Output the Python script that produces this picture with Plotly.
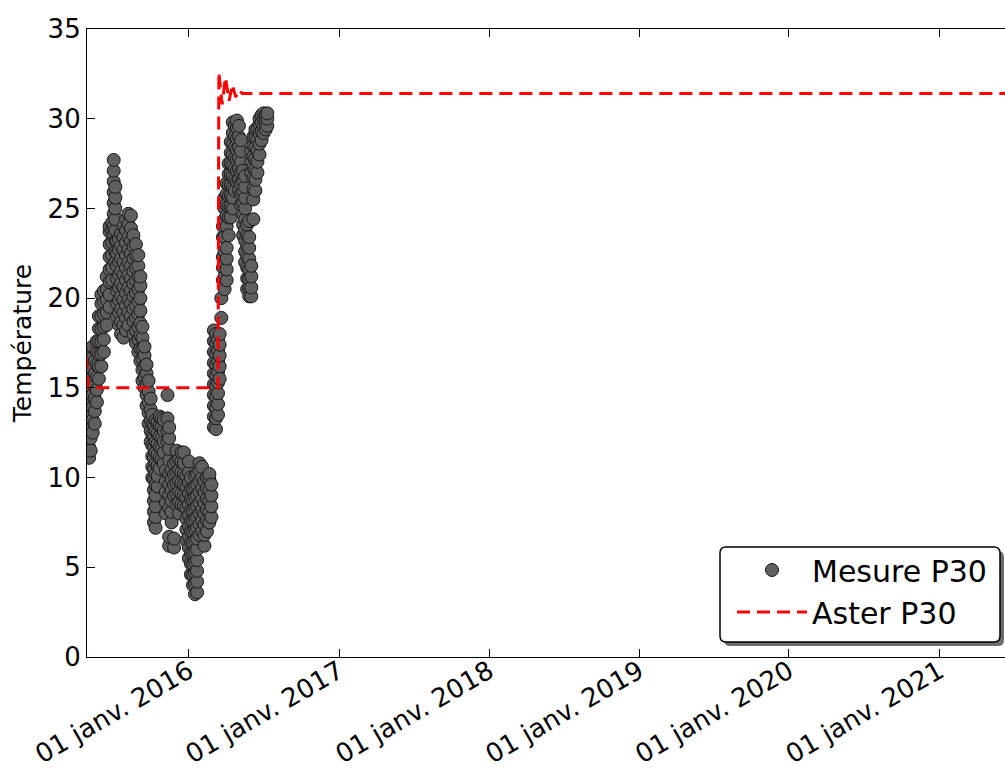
import plotly.graph_objects as go

# ---- data ----
# Measured temperature (Mesure P30): each date has several readings
mesure_groups_dates = [
    "2015-05-03", "2015-05-07", "2015-05-12", "2015-05-17", "2015-05-22", "2015-05-27",
    "2015-06-02", "2015-06-08", "2015-06-15", "2015-06-22", "2015-06-28", "2015-07-02",
    "2015-07-06", "2015-07-10", "2015-07-15", "2015-07-20", "2015-07-26", "2015-08-01",
    "2015-08-07", "2015-08-13", "2015-08-19", "2015-08-25", "2015-08-31", "2015-09-05",
    "2015-09-10", "2015-09-15", "2015-09-20", "2015-09-25", "2015-09-30", "2015-10-04",
    "2015-10-08", "2015-10-12", "2015-10-17", "2015-10-22", "2015-10-27", "2015-11-01",
    "2015-11-06", "2015-11-10", "2015-11-14", "2015-11-20", "2015-11-26", "2015-12-02",
    "2015-12-08", "2015-12-14", "2015-12-20", "2015-12-26", "2016-01-01", "2016-01-06",
    "2016-01-11", "2016-01-16", "2016-01-21", "2016-01-27", "2016-02-02", "2016-02-08",
    "2016-02-14", "2016-02-20", "2016-02-25",
    "2016-03-02", "2016-03-07", "2016-03-12", "2016-03-16", "2016-03-20", "2016-03-24",
    "2016-03-28", "2016-04-02", "2016-04-07", "2016-04-12", "2016-04-17", "2016-04-22",
    "2016-04-27", "2016-05-02", "2016-05-07", "2016-05-12", "2016-05-17", "2016-05-22",
    "2016-05-27", "2016-06-01", "2016-06-06", "2016-06-11", "2016-06-16", "2016-06-21",
    "2016-06-26", "2016-07-01", "2016-07-06", "2016-07-10",
]
mesure_groups_values = [
    [11.1, 11.7, 12.3, 12.9, 13.5, 14.1, 14.7, 15.3],
    [11.5, 12.2, 12.9, 13.6, 14.3, 15.0, 15.7, 16.4, 17.1],
    [12.5, 13.2, 13.9, 14.6, 15.3, 16.0, 16.7, 17.3],
    [13.0, 13.7, 14.4, 15.1, 15.8, 16.5],
    [14.2, 14.9, 15.6, 16.3, 17.0, 17.6],
    [15.5, 16.2, 16.9, 17.6, 18.3, 19.0],
    [16.2, 16.9, 17.6, 18.3, 19.0, 19.7, 20.2],
    [17.0, 17.7, 18.4, 19.1, 19.8, 20.4],
    [18.5, 19.2, 19.9, 20.5, 21.2],
    [19.5, 20.2, 20.9, 21.6, 22.3, 23.0, 23.7, 24.0],
    [21.0, 21.7, 22.4, 23.1, 23.8, 24.2],
    [23.5, 24.0, 24.7, 25.3, 25.9, 26.5, 27.1, 27.7],
    [22.0, 22.6, 23.2, 23.8, 24.4, 25.0, 25.6, 26.2],
    [19.0, 19.7, 20.4, 21.1, 21.8, 22.5, 23.2],
    [18.5, 19.2, 19.9, 20.6, 21.3, 22.0, 22.7, 23.3],
    [18.0, 18.7, 19.4, 20.1, 20.8, 21.5, 22.2, 22.9, 23.6],
    [17.8, 18.5, 19.2, 19.9, 20.6, 21.3, 22.0, 22.7, 23.4, 24.0],
    [18.2, 18.9, 19.6, 20.3, 21.0, 21.7, 22.4, 23.1, 23.8, 24.4],
    [18.5, 19.2, 19.9, 20.6, 21.3, 22.0, 22.7, 23.4, 24.1, 24.7],
    [19.0, 19.7, 20.4, 21.1, 21.8, 22.5, 23.2, 23.9, 24.6],
    [18.0, 18.7, 19.4, 20.1, 20.8, 21.5, 22.2, 22.9, 23.5],
    [17.5, 18.2, 18.9, 19.6, 20.3, 21.0, 21.7, 22.4, 23.0],
    [17.0, 17.7, 18.4, 19.1, 19.8, 20.5, 21.2, 21.8, 22.4],
    [16.5, 17.2, 17.9, 18.6, 19.3, 20.0, 20.7, 21.2],
    [15.4, 16.0, 16.6, 17.2, 17.8, 18.4],
    [15.0, 15.6, 16.2, 16.8, 17.3],
    [14.0, 14.6, 15.2, 15.8, 16.3],
    [13.0, 13.6, 14.2, 14.8, 15.4],
    [12.0, 12.6, 13.2, 13.8, 14.4],
    [10.0, 10.6, 11.2, 11.8, 12.4, 13.0, 13.5],
    [7.5, 8.1, 8.7, 9.3, 9.9, 10.5, 11.1, 11.7, 12.3, 12.9],
    [7.2, 7.8, 8.4, 9.0, 9.6, 10.2, 10.8, 11.4, 12.0, 12.6, 13.2],
    [9.5, 10.1, 10.7, 11.3, 11.9, 12.5, 13.1],
    [10.5, 11.1, 11.7, 12.3, 12.9, 13.4],
    [11.0, 11.6, 12.2, 12.8, 13.3],
    [10.8, 11.4, 12.0, 12.6, 13.2],
    [8.0, 8.6, 9.2, 9.8, 10.4],
    [12.0, 12.6, 13.3, 14.6],
    [6.2, 6.7, 8.3, 9.0, 9.6, 10.2, 11.0, 11.6, 12.2, 12.8],
    [7.5, 8.1, 8.7, 9.3, 9.9, 10.4],
    [6.1, 6.6, 9.0, 9.6, 10.2, 10.8],
    [8.5, 9.1, 9.7, 10.3, 10.9, 11.5],
    [8.0, 8.6, 9.2, 9.8, 10.4, 11.0],
    [8.5, 9.1, 9.7, 10.3, 10.9, 11.4],
    [8.4, 9.0, 9.6, 10.2, 10.8, 11.4],
    [6.5, 7.1, 7.7, 8.3, 8.9, 9.5, 10.1],
    [5.5, 6.1, 6.7, 7.3, 7.9, 8.5, 9.1, 9.7, 10.3, 10.9],
    [4.6, 5.2, 5.8, 6.4, 7.0, 7.6, 8.2, 8.8, 9.4, 10.0],
    [4.0, 4.6, 5.2, 5.8, 6.4, 7.0, 7.6, 8.2, 8.8, 9.4],
    [3.5, 4.1, 4.7, 5.3, 5.9, 6.5, 7.1, 7.7, 8.3, 8.9, 9.5, 10.1],
    [3.6, 4.2, 4.8, 5.4, 6.0, 6.6, 7.2, 7.8, 8.4, 9.0, 9.6, 10.2],
    [6.8, 7.4, 8.0, 8.6, 9.2, 9.8, 10.4, 10.8],
    [7.0, 7.6, 8.2, 8.8, 9.4, 10.0, 10.6],
    [6.2, 6.8, 7.4, 8.0, 8.6, 9.2, 9.8],
    [7.0, 7.6, 8.2, 8.8, 9.4, 10.0],
    [7.5, 8.1, 8.7, 9.3, 9.9, 10.2],
    [7.8, 8.4, 9.0, 9.6],
    [12.8, 13.4, 14.0, 14.6, 15.2, 15.8, 16.4, 17.0, 17.6, 18.2],
    [12.7, 13.3, 13.9, 14.5, 15.1, 15.7, 16.3, 16.9, 17.5, 18.0],
    [13.5, 14.1, 14.7, 15.3, 15.9, 16.5, 17.1, 17.7],
    [15.5, 16.2, 16.8, 17.4, 18.0],
    [18.9, 20.0],
    [21.0, 21.7, 22.3, 23.4, 24.0],
    [20.5, 21.2, 21.9, 22.6, 23.4, 24.4, 25.0, 25.6],
    [21.0, 21.6, 22.2, 22.8, 24.0, 24.6, 25.2, 25.8, 26.4],
    [23.5, 24.5, 25.1, 25.7, 26.3, 26.9, 27.5],
    [24.5, 25.1, 25.7, 26.3, 26.9, 27.5, 28.1, 28.7],
    [25.0, 25.6, 26.2, 26.8, 27.4, 28.0, 28.6, 29.2, 29.8],
    [26.0, 26.6, 27.2, 27.8, 28.4, 29.0, 29.6],
    [26.5, 27.1, 27.7, 28.3, 28.9, 29.5, 29.9],
    [26.0, 26.6, 27.2, 27.8, 28.4, 29.0, 29.6],
    [25.2, 25.8, 26.4, 27.0, 27.6, 28.2, 28.8],
    [23.5, 24.1, 24.7, 25.3, 25.9, 26.5, 27.1],
    [22.0, 22.6, 23.2, 23.8, 24.4, 25.0, 25.6, 26.2, 26.8],
    [20.5, 21.1, 21.7, 22.3, 22.9, 23.5, 24.1],
    [20.1, 20.6, 21.1, 21.6, 22.2, 22.8, 23.4, 24.3],
    [20.1, 20.6, 21.2, 21.8, 27.0, 27.6, 28.2],
    [24.4, 25.5, 26.1, 26.7, 27.3, 27.9, 28.5, 29.0],
    [26.0, 26.6, 27.2, 27.8, 28.4, 29.0, 29.4],
    [27.0, 27.6, 28.2, 28.8, 29.4],
    [28.0, 28.6, 29.2, 29.7, 30.0],
    [28.8, 29.3, 29.8, 30.2],
    [29.2, 29.6, 30.0, 30.3],
    [29.4, 29.8, 30.2],
    [29.6, 30.0, 30.3],
]

# Simulated temperature (Aster P30)
aster_dates = ["2015-04-20", "2015-05-01", "2016-03-12", "2016-03-14", "2016-03-22",
               "2016-03-30", "2016-04-08", "2016-04-16", "2016-04-24", "2016-05-02",
               "2016-05-10", "2021-12-31"]
aster_values = [19.0, 15.0, 15.0, 32.6, 30.8, 32.3, 31.0, 31.9, 31.2, 31.6, 31.4, 31.4]

tick_dates = ["2016-01-01", "2017-01-01", "2018-01-01", "2019-01-01", "2020-01-01", "2021-01-01"]
tick_labels = ["01 janv. 2016", "01 janv. 2017", "01 janv. 2018",
               "01 janv. 2019", "01 janv. 2020", "01 janv. 2021"]
y_ticks = [0, 5, 10, 15, 20, 25, 30, 35]

# flatten the measurement groups
mes_x, mes_y = [], []
for d, vals in zip(mesure_groups_dates, mesure_groups_values):
    for v in vals:
        mes_x.append(d)
        mes_y.append(v)

FONT = "DejaVu Sans"
W, H = 1005, 769
ML, MR, MT, MB = 87, 0, 29, 112
PW, PH = W - ML - MR, H - MT - MB


def px_x(p):  # pixel -> paper x
    return (p - ML) / PW


def px_y(p):  # pixel -> paper y
    return (H - MB - p) / PH


fig = go.Figure()
fig.add_trace(go.Scatter(
    x=mes_x, y=mes_y, mode="markers", name="Mesure P30",
    marker=dict(size=13, color="rgb(95,95,95)", line=dict(color="rgb(25,25,25)", width=1)),
))
fig.add_trace(go.Scatter(
    x=aster_dates, y=aster_values, mode="lines", name="Aster P30",
    line=dict(color="red", width=3, dash="13px,7px"),
))

axis_common = dict(
    showline=True, linecolor="black", linewidth=1.2,
    ticks="inside", ticklen=8, tickcolor="black", tickwidth=1,
    showgrid=False, zeroline=False, automargin=False,
)


def rounded_rect(x0, y0, x1, y1, r):
    X, Y = px_x, px_y
    return (f"M {X(x0 + r)},{Y(y0)} L {X(x1 - r)},{Y(y0)} "
            f"Q {X(x1)},{Y(y0)} {X(x1)},{Y(y0 + r)} L {X(x1)},{Y(y1 - r)} "
            f"Q {X(x1)},{Y(y1)} {X(x1 - r)},{Y(y1)} L {X(x0 + r)},{Y(y1)} "
            f"Q {X(x0)},{Y(y1)} {X(x0)},{Y(y1 - r)} L {X(x0)},{Y(y0 + r)} "
            f"Q {X(x0)},{Y(y0)} {X(x0 + r)},{Y(y0)} Z")


# legend frame (rounded, with shadow) drawn as shapes
fig.add_shape(type="path", xref="paper", yref="paper",
              path=rounded_rect(724, 551, 1004, 646, 6),
              fillcolor="rgb(110,110,110)", line=dict(width=0), layer="above")
fig.add_shape(type="path", xref="paper", yref="paper",
              path=rounded_rect(720, 547, 1000, 642, 6),
              fillcolor="white", line=dict(color="black", width=1.5), layer="above")

fig.update_layout(
    width=W, height=H,
    margin=dict(l=ML, r=MR, t=MT, b=MB),
    paper_bgcolor="white", plot_bgcolor="white",
    font=dict(family=FONT, color="black"),
    xaxis=dict(
        type="date",
        range=["2015-04-28", "2021-06-10"],
        tickvals=tick_dates, ticktext=tick_labels, tickangle=-30,
        mirror="ticks", ticklabelstandoff=-12,
        tickfont=dict(family=FONT, size=26, color="black"),
        **axis_common,
    ),
    yaxis=dict(
        range=[0, 35], tickvals=y_ticks,
        tickfont=dict(family=FONT, size=26, color="black"),
        title=dict(text="Température", font=dict(family=FONT, size=25), standoff=8),
        **axis_common,
    ),
    legend=dict(
        x=px_x(732), y=px_y(544), xanchor="left", yanchor="top",
        bgcolor="rgba(0,0,0,0)", borderwidth=0,
        font=dict(family=FONT, size=30, color="black"),
        itemwidth=70, tracegroupgap=0,
    ),
    showlegend=True,
)

fig.write_html("out.html", config={"displayModeBar": False},
               post_script="document.body.style.margin='0';document.body.style.overflow='hidden';")
